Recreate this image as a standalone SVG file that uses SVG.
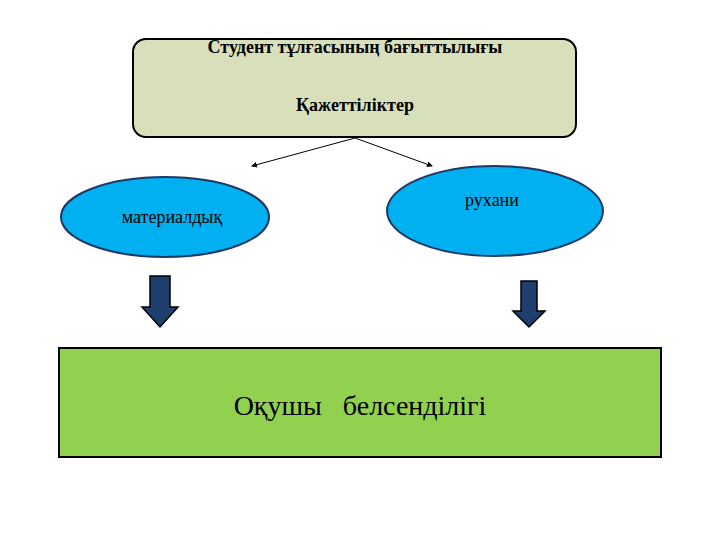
<svg xmlns="http://www.w3.org/2000/svg" width="720" height="540" viewBox="0 0 720 540">
<defs>
<style>
text{font-family:"Liberation Serif","Times New Roman",serif;fill:#000}
.ell{fill:#00b0f0;stroke:#1f3864;stroke-width:2}
.dn{fill:#1f3f6e;stroke:#000;stroke-width:1.5}
.conn{stroke:#000;stroke-width:1;fill:none;marker-end:url(#ah)}
</style>
<marker id="ah" markerWidth="6" markerHeight="6" refX="5" refY="3" orient="auto" markerUnits="userSpaceOnUse"><path d="M0,0L6,3L0,6z" fill="#000"/></marker>
</defs>
<rect width="720" height="540" fill="#fff"/>
<g id="top"><rect x="133" y="39" width="443" height="98" rx="13" fill="#d7e0bb" stroke="#000" stroke-width="2"/>
<text x="355" y="53" font-size="18" font-weight="bold" text-anchor="middle">Студент тұлғасының бағыттылығы</text>
<text x="355" y="111" font-size="18" font-weight="bold" text-anchor="middle">Қажеттіліктер</text></g>
<g id="connectors">
<line class="conn" x1="355" y1="138" x2="252" y2="166"/>
<line class="conn" x1="355" y1="138" x2="432" y2="166"/>
<path class="dn" d="M150,276H170V307H178L160,327L142,307H150Z"/>
<path class="dn" d="M521,281H537V311H545L529,327L513,311H521Z"/>
</g>
<g id="left"><ellipse class="ell" cx="165" cy="217" rx="104" ry="40"/>
<text x="172" y="223" font-size="18" text-anchor="middle">материалдық</text></g>
<g id="right"><ellipse class="ell" cx="495" cy="211" rx="108" ry="45"/>
<text x="492" y="206" font-size="18" text-anchor="middle">рухани</text></g>
<g id="bottom"><rect x="59" y="348" width="602" height="109" fill="#92d050" stroke="#000" stroke-width="2"/>
<text x="360" y="415" font-size="28" text-anchor="middle" xml:space="preserve">Оқушы   белсенділігі</text></g>
</svg>
